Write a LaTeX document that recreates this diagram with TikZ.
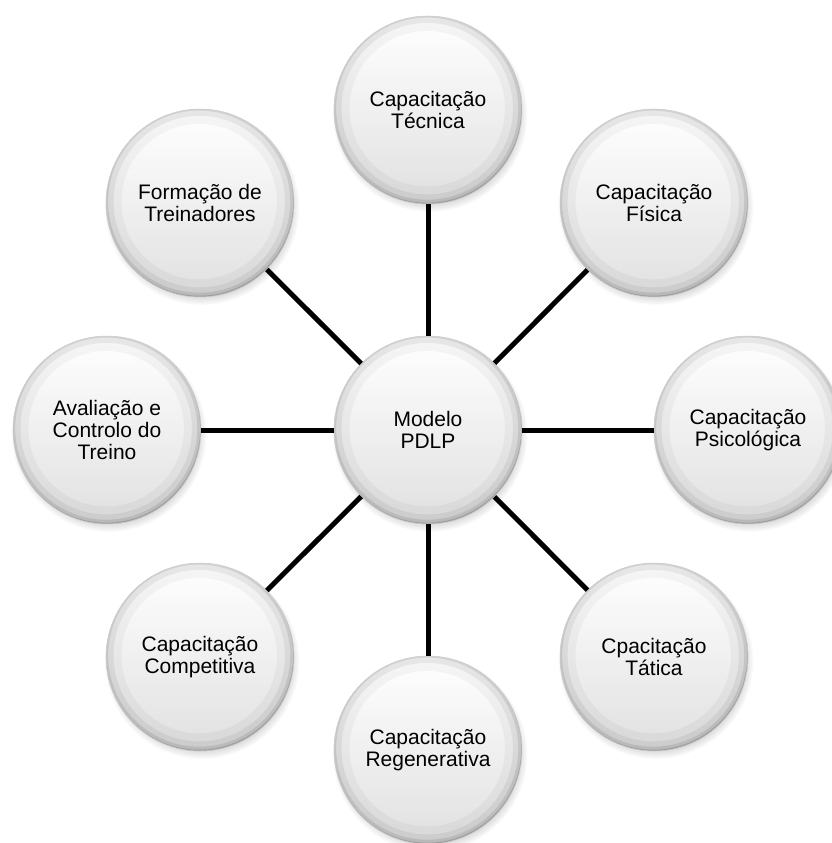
\documentclass[tikz,border=0pt]{standalone}
\usepackage{fontspec}
\setmainfont{Liberation Sans}
\usepackage{tikz}
\usetikzlibrary{shadows}

\begin{document}
\begin{tikzpicture}[x=0.75pt,y=-0.75pt,
		bubble/.style={circle,minimum size=141pt,inner sep=0pt,align=center,
			font=\fontsize{15.75}{16.5}\selectfont,
			draw=black!20,line width=0.4pt,
			top color=white,middle color=white,bottom color=black!12,
			circular drop shadow={shadow xshift=1.2pt,shadow yshift=-3pt,shadow scale=1.04,opacity=0.45},
			path picture={
				\path ([xshift=-0.6pt,yshift=1pt]path picture bounding box.center) coordinate (rc);
				\draw[black,opacity=0.035,line width=13.4pt] (rc) circle[radius=65pt];
				\draw[black,opacity=0.06,line width=7.4pt] (rc) circle[radius=68pt];
				\draw[black,opacity=0.09,line width=3.4pt] (rc) circle[radius=70pt];
				\draw[black,opacity=0.14,line width=1.2pt] (rc) circle[radius=71.1pt];}},
		spoke/.style={line width=3.75pt,black}]
		\useasboundingbox (0,0) rectangle (832,843);
%		\draw[help lines,step=50] (0,0) grid (832,843);
		\path (428,430) coordinate (mid);
		\path (428,110) coordinate (top);
		\path (654,203) coordinate (topright);
		\path (748,430) coordinate (right);
		\path (654,657) coordinate (botright);
		\path (428,750) coordinate (bot);
		\path (200,657) coordinate (botleft);
		\path (107,430) coordinate (left);
		\path (200,203) coordinate (topleft);

		\draw (mid) node(modelo) [bubble] {Modelo\\PDLP};
		\draw (top) node(tecnica) [bubble] {Capacitação\\Técnica};
		\draw (topright) node(fisica) [bubble] {Capacitação\\Física};
		\draw (right) node(psico) [bubble] {Capacitação\\Psicológica};
		\draw (botright) node(tatica) [bubble] {Cpacitação\\Tática};
		\draw (bot) node(regen) [bubble] {Capacitação\\Regenerativa};
		\draw (botleft) node(compet) [bubble] {Capacitação\\Competitiva};
		\draw (left) node(aval) [bubble] {Avaliação e\\Controlo do\\Treino};
		\draw (topleft) node(formacao) [bubble] {Formação de\\Treinadores};

		\draw[spoke] (modelo) -- (tecnica);
		\draw[spoke] (modelo) -- (fisica);
		\draw[spoke] (modelo) -- (psico);
		\draw[spoke] (modelo) -- (tatica);
		\draw[spoke] (modelo) -- (regen);
		\draw[spoke] (modelo) -- (compet);
		\draw[spoke] (modelo) -- (aval);
		\draw[spoke] (modelo) -- (formacao);
	\end{tikzpicture}
\end{document}
